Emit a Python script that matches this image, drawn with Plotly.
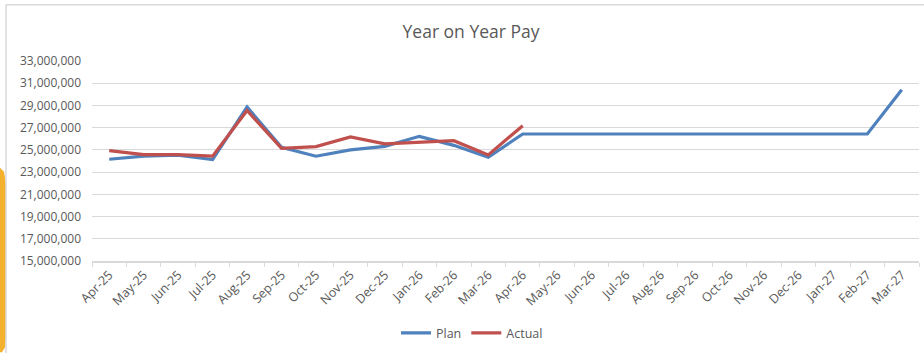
import plotly.graph_objects as go

# Monthly pay, plan vs actual
months = [
    "Apr-25", "May-25", "Jun-25", "Jul-25", "Aug-25", "Sep-25", "Oct-25", "Nov-25",
    "Dec-25", "Jan-26", "Feb-26", "Mar-26", "Apr-26", "May-26", "Jun-26", "Jul-26",
    "Aug-26", "Sep-26", "Oct-26", "Nov-26", "Dec-26", "Jan-27", "Feb-27", "Mar-27",
]
plan = [
    24160000, 24430000, 24520000, 24130000, 28860000, 25230000, 24430000, 25000000,
    25320000, 26220000, 25410000, 24340000, 26430000, 26430000, 26430000, 26430000,
    26430000, 26430000, 26430000, 26430000, 26430000, 26430000, 26430000, 30410000,
]
actual = [
    24940000, 24580000, 24580000, 24430000, 28550000, 25140000, 25300000, 26160000,
    25540000, 25720000, 25830000, 24550000, 27180000,
] + [None] * 11
y_ticks = list(range(15000000, 33000001, 2000000))

W, H = 924, 353
PL, PR, PT, PB = 92, 919, 61, 261.5  # plot area edges in px


def px_x(v):
    return (v - PL) / (PR - PL)


def px_y(v):
    return (PB - v) / (PB - PT)


FONT = "Open Sans, Segoe UI, Calibri, sans-serif"
GREY_TXT = "#595959"
GRID = "#d9d9d9"

fig = go.Figure()
fig.add_trace(go.Scatter(
    x=months, y=plan, name="Plan", mode="lines",
    line=dict(color="#4F81BD", width=3.2),
))
fig.add_trace(go.Scatter(
    x=months, y=actual, name="Actual", mode="lines",
    line=dict(color="#C0504D", width=3.2),
))

# orange tab peeking in at the left edge, behind the chart frame
orange_pts = [(-20, 168), (0, 168), (4, 172), (6, 184), (6, 338), (5, 348), (2, 353), (-20, 353)]
path = "M " + " L ".join(f"{px_x(x)},{px_y(y)}" for x, y in orange_pts) + " Z"
shapes = [
    dict(type="path", xref="paper", yref="paper", path=path,
         fillcolor="#F4B12E", line=dict(width=0), layer="below"),
    # chart frame (top and left edges)
    dict(type="line", xref="paper", yref="paper",
         x0=px_x(6), x1=px_x(930), y0=px_y(4.5), y1=px_y(4.5),
         line=dict(color=GRID, width=1.5)),
    dict(type="line", xref="paper", yref="paper",
         x0=px_x(6), x1=px_x(6), y0=px_y(4.5), y1=px_y(360),
         line=dict(color=GRID, width=1.5)),
]

fig.update_layout(
    width=W, height=H,
    margin=dict(l=PL, r=W - PR, t=PT, b=H - PB),
    paper_bgcolor="white", plot_bgcolor="white",
    font=dict(family=FONT, color=GREY_TXT, size=12),
    title=dict(
        text="Year on Year Pay", x=471 / W, xref="container", xanchor="center",
        y=1 - 32 / H, yref="container", yanchor="middle",
        font=dict(family=FONT, size=17.5, color=GREY_TXT),
    ),
    xaxis=dict(
        type="category", range=[-0.5, len(months) - 0.5],
        tickangle=-45, tickson="boundaries", ticks="outside", ticklen=4,
        tickcolor=GRID, showline=True, linecolor=GRID, linewidth=1.5,
        showgrid=False, tickfont=dict(size=12.5, color=GREY_TXT),
    ),
    yaxis=dict(
        range=[15000000, 33000000], tickvals=y_ticks,
        tickformat=",d", showgrid=True, gridcolor=GRID, gridwidth=1,
        zeroline=False, showline=False, ticks="",
        ticklabelstandoff=10, tickfont=dict(size=12, color=GREY_TXT),
    ),
    legend=dict(
        orientation="h", x=px_x(472), xanchor="center",
        y=px_y(334), yanchor="middle",
        font=dict(size=12.5, color=GREY_TXT), bgcolor="rgba(0,0,0,0)",
    ),
    shapes=shapes,
    showlegend=True,
)

fig.write_html("out.html")
